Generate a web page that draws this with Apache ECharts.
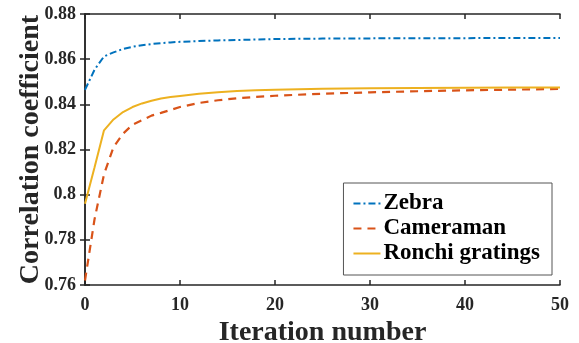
<!DOCTYPE html>
<html>
<head>
<meta charset="utf-8">
<script src="https://cdn.jsdelivr.net/npm/echarts@6/dist/echarts.min.js"></script>
<style>
  html, body { margin: 0; padding: 0; background: #fff; }
  #main { width: 579px; height: 343px; }
</style>
</head>
<body>
<div id="main"></div>
<script>
// iterations
var iterations = [0, 1, 2, 3, 4, 5, 6, 7, 8, 9, 10, 12, 14, 16, 18, 20, 25, 30, 35, 40, 45, 50];
var zebra = [0.8464, 0.8553, 0.8612, 0.8630, 0.8645, 0.8655, 0.8662, 0.8667, 0.8671, 0.8674, 0.8677,
  0.8680, 0.8683, 0.8685, 0.8687, 0.8689, 0.8691, 0.8692, 0.8693, 0.8693, 0.8694, 0.8694];
var cameraman = [0.7620, 0.7890, 0.8090, 0.8210, 0.8270, 0.8310, 0.8330, 0.8350, 0.8362, 0.8375, 0.8388,
  0.8406, 0.8418, 0.8427, 0.8433, 0.8438, 0.8447, 0.8453, 0.8458, 0.8462, 0.8465, 0.8468];
var ronchi = [0.7960, 0.8120, 0.8285, 0.8333, 0.8366, 0.8388, 0.8404, 0.8416, 0.8426, 0.8432, 0.8437,
  0.8447, 0.8454, 0.8459, 0.8462, 0.8465, 0.8469, 0.8471, 0.8472, 0.8473, 0.8474, 0.8475];
var seriesNames = ['Zebra', 'Cameraman', 'Ronchi gratings'];

function pairs(ys) {
	return iterations.map(function (x, i) { return [x, ys[i]]; });
}

var font = '"Liberation Serif", "Times New Roman", serif';
var axisColor = '#262626';

var chart = echarts.init(document.getElementById('main'));
chart.setOption({
	animation: false,
	grid: { left: 85, right: 19, top: 14, bottom: 58, outerBoundsMode: 'none', containLabel: false },
	legend: {
		data: seriesNames,
		orient: 'vertical',
		right: 27,
		top: 183,
		itemWidth: 27,
		itemHeight: 14,
		itemGap: 0,
		padding: [8, 12, 9, 9],
		borderColor: '#555',
		borderWidth: 1,
		backgroundColor: '#fff',
		itemStyle: { opacity: 0 },
		textStyle: { fontFamily: font, fontWeight: 'bold', fontSize: 23, color: '#000', lineHeight: 25, padding: [0, 0, 0, -2] }
	},
	xAxis: [{
		type: 'value',
		min: 0, max: 50, interval: 10,
		name: 'Iteration number',
		nameLocation: 'middle',
		nameGap: 23,
		nameTextStyle: { fontFamily: font, fontWeight: 'bold', fontSize: 28, color: '#262626' },
		axisLine: { lineStyle: { color: axisColor, width: 1.5 } },
		axisTick: { inside: true, length: 5, lineStyle: { color: axisColor, width: 1.5 } },
		axisLabel: { fontFamily: font, fontWeight: 'bold', fontSize: 18, color: '#262626', margin: 11 },
		splitLine: { show: false }
	}, {
		type: 'value', position: 'top',
		min: 0, max: 50, interval: 10,
		axisLine: { lineStyle: { color: axisColor, width: 1.5 } },
		axisTick: { inside: true, length: 5, lineStyle: { color: axisColor, width: 1.5 } },
		axisLabel: { show: false },
		splitLine: { show: false }
	}],
	yAxis: [{
		type: 'value',
		min: 0.76, max: 0.88, interval: 0.02,
		name: 'Correlation coefficient',
		nameLocation: 'middle',
		nameGap: 40,
		nameMoveOverlap: false,
		nameTextStyle: { fontFamily: font, fontWeight: 'bold', fontSize: 28, color: '#262626' },
		axisLine: { show: true, lineStyle: { color: axisColor, width: 1.5 } },
		axisTick: { show: true, inside: true, length: 5, lineStyle: { color: axisColor, width: 1.5 } },
		axisLabel: { fontFamily: font, fontWeight: 'bold', fontSize: 18, color: '#262626', margin: 9 },
		splitLine: { show: false }
	}, {
		type: 'value', position: 'right',
		min: 0.76, max: 0.88, interval: 0.02,
		axisLine: { show: true, lineStyle: { color: axisColor, width: 1.5 } },
		axisTick: { show: true, inside: true, length: 5, lineStyle: { color: axisColor, width: 1.5 } },
		axisLabel: { show: false },
		splitLine: { show: false }
	}],
	series: [{
		name: seriesNames[0],
		type: 'line',
		data: pairs(zebra),
		showSymbol: false, symbol: 'none',
		color: '#0072BD',
		lineStyle: { width: 2, type: [7, 3, 2, 3] }
	}, {
		name: seriesNames[1],
		type: 'line',
		data: pairs(cameraman),
		showSymbol: false, symbol: 'none',
		color: '#D95319',
		lineStyle: { width: 2.2, type: [8, 6] }
	}, {
		name: seriesNames[2],
		type: 'line',
		data: pairs(ronchi),
		showSymbol: false, symbol: 'none',
		color: '#EDB120',
		lineStyle: { width: 2 }
	}]
});
</script>
</body>
</html>
